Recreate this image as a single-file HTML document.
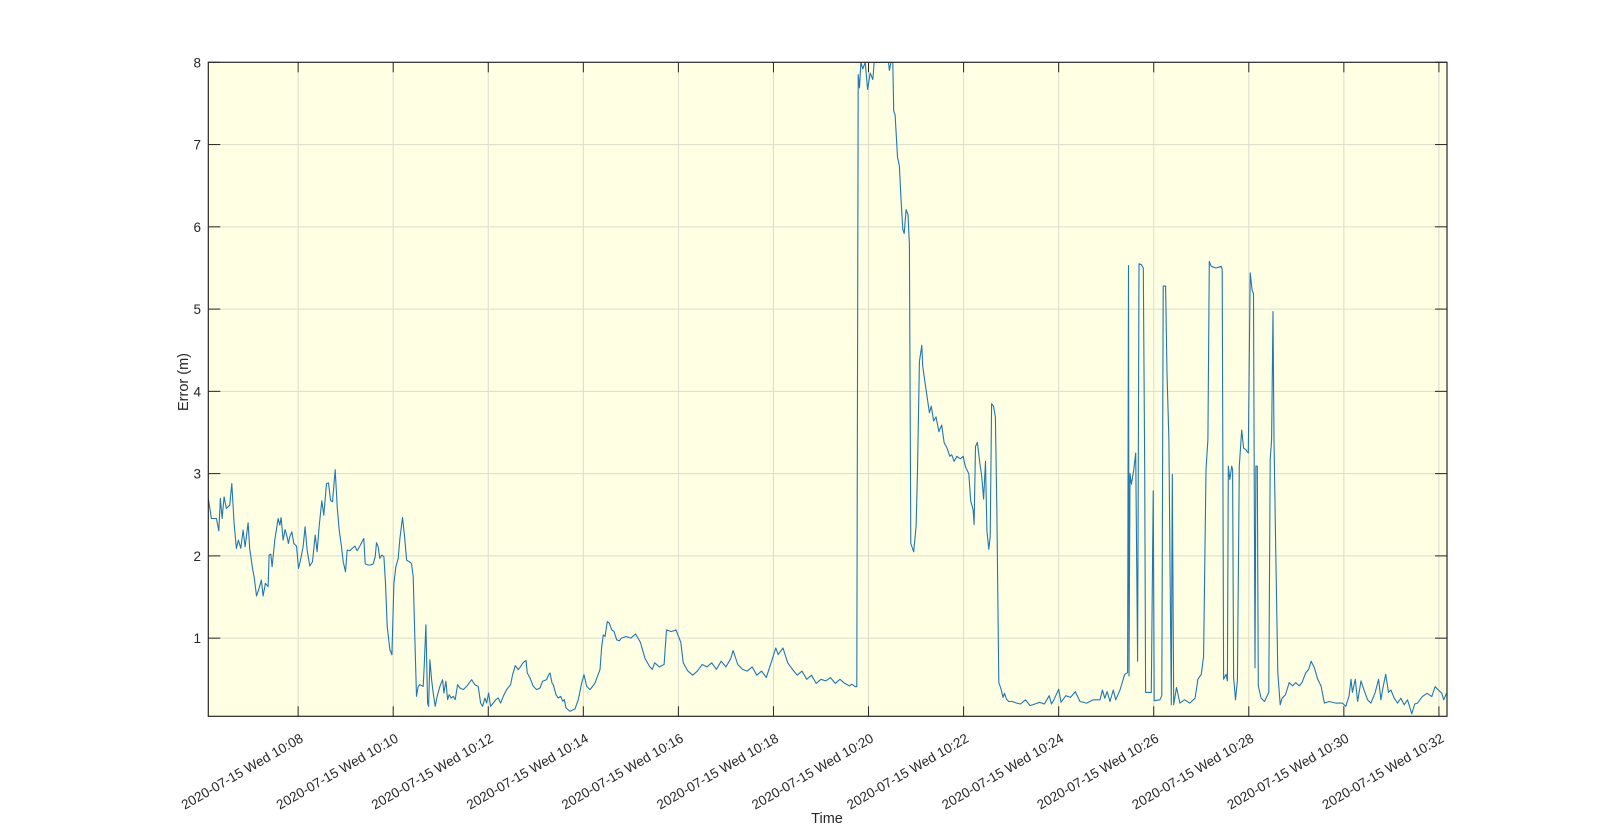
<!DOCTYPE html>
<html><head><meta charset="utf-8"><style>
html,body{margin:0;padding:0;background:#fff;}
svg{display:block;font-family:"Liberation Sans",Arial,sans-serif;}
</style></head><body>
<svg id="chart" width="1600" height="827" viewBox="0 0 1600 827">
<rect x="208.3" y="62.3" width="1238.7" height="654" fill="#ffffe3"/>
<g id="grid"></g>
<g id="series"></g>
<rect x="208.3" y="62.3" width="1238.7" height="654" fill="none" stroke="#262626" stroke-width="1.2"/>
<g id="ticks"></g>
<text x="827" y="823" font-size="14.5" fill="#262626" text-anchor="middle">Time</text>
<text transform="translate(188,382) rotate(-90)" font-size="14.5" fill="#262626" text-anchor="middle">Error (m)</text>
</svg>
<script>
const xTickMinutes=[8,10,12,14,16,18,20,22,24,26,28,30,32];
const xTickLabels=["2020-07-15 Wed 10:08","2020-07-15 Wed 10:10","2020-07-15 Wed 10:12","2020-07-15 Wed 10:14","2020-07-15 Wed 10:16","2020-07-15 Wed 10:18","2020-07-15 Wed 10:20","2020-07-15 Wed 10:22","2020-07-15 Wed 10:24","2020-07-15 Wed 10:26","2020-07-15 Wed 10:28","2020-07-15 Wed 10:30","2020-07-15 Wed 10:32"];
const yTicks=[1,2,3,4,5,6,7,8];
const times=[6.105,6.175,6.281,6.330,6.365,6.400,6.442,6.491,6.561,6.604,6.653,6.702,6.744,6.793,6.842,6.884,6.947,6.982,7.039,7.074,7.123,7.179,7.228,7.263,7.312,7.368,7.389,7.425,7.453,7.509,7.579,7.614,7.642,7.684,7.726,7.768,7.796,7.825,7.867,7.909,7.965,8.007,8.049,8.105,8.147,8.189,8.246,8.302,8.358,8.400,8.442,8.498,8.540,8.596,8.639,8.681,8.723,8.779,8.821,8.863,8.912,8.947,8.996,9.032,9.088,9.137,9.193,9.242,9.298,9.382,9.411,9.474,9.523,9.579,9.621,9.649,9.684,9.719,9.761,9.804,9.839,9.874,9.930,9.972,10.014,10.056,10.105,10.140,10.196,10.239,10.281,10.337,10.386,10.421,10.456,10.491,10.526,10.561,10.632,10.653,10.688,10.723,10.744,10.772,10.807,10.842,10.884,10.926,10.982,11.039,11.067,11.109,11.144,11.179,11.221,11.263,11.305,11.354,11.404,11.474,11.544,11.649,11.719,11.789,11.839,11.881,11.930,11.965,12.007,12.049,12.105,12.161,12.211,12.260,12.316,12.386,12.470,12.512,12.568,12.632,12.681,12.737,12.793,12.821,12.877,12.947,13.018,13.088,13.144,13.228,13.270,13.298,13.340,13.368,13.425,13.474,13.523,13.565,13.600,13.635,13.719,13.825,13.895,13.965,14.014,14.070,14.140,14.196,14.246,14.295,14.351,14.386,14.421,14.456,14.505,14.547,14.596,14.646,14.702,14.758,
14.8,14.9,15.0,15.1,15.2,15.3,15.4,15.45,15.5,15.6,15.7,15.75,15.85,15.95,16.05,16.1,16.2,16.3,16.4,16.5,16.6,16.7,16.8,16.9,17.0,17.1,17.15,17.25,17.35,17.45,17.55,17.65,17.75,17.85,17.95,18.05,18.1,18.2,18.3,18.4,18.5,18.6,18.7,18.8,18.9,19.0,19.1,19.2,19.3,19.4,19.5,19.6,19.649,19.72,19.754,
19.782,19.81,19.84,19.88,19.93,19.98,20.035,20.09,20.12,20.42,20.44,20.47,20.51,20.53,20.56,20.61,20.65,20.68,20.72,20.75,20.79,20.83,20.86,20.89,20.95,21.0,21.03,21.07,21.12,21.14,21.19,21.24,21.28,21.32,21.37,21.42,21.48,21.54,21.59,21.65,21.71,21.75,21.8,21.86,21.93,21.99,22.04,22.11,22.15,22.2,22.22,22.25,22.29,22.34,22.38,22.42,22.46,22.49,22.53,22.56,22.59,22.63,22.67,22.7,22.74,22.79,22.83,22.86,22.9,22.95,23.02,23.12,
23.2,23.3,23.4,23.5,23.6,23.7,23.8,23.85,23.9,24.0,24.05,24.15,24.25,24.35,24.45,24.59,24.73,24.87,24.92,24.97,25.02,25.08,25.15,25.2,25.29,25.39,25.45,25.47,25.48,25.5,25.53,25.58,25.62,25.66,25.69,25.74,25.78,25.81,25.83,25.95,25.99,26.01,26.13,26.17,26.2,26.25,26.28,26.32,26.37,26.39,26.42,26.48,26.55,26.65,26.76,26.87,26.93,27.0,27.05,27.1,27.14,27.17,27.21,27.31,27.42,27.44,27.47,27.52,27.55,27.57,27.6,27.64,27.66,27.68,27.72,27.76,27.8,27.85,27.89,27.94,27.99,28.03,28.07,28.1,28.13,28.15,28.18,28.2,28.26,28.33,28.42,28.45,28.48,28.51,28.53,28.56,28.61,28.66,28.7,28.77,28.85,28.92,28.99,29.06,29.12,29.2,29.26,29.31,29.38,29.45,29.52,29.59,29.69,29.83,29.97,30.04,30.11,30.15,30.18,30.24,30.29,30.36,30.43,30.5,30.57,30.66,30.73,30.78,30.83,30.88,30.94,30.99,31.06,31.13,31.2,31.27,31.34,31.43,31.49,31.55,31.65,31.75,31.85,31.92,31.99,32.06,32.1,32.16];
const errors=[2.717,2.455,2.455,2.305,2.697,2.455,2.717,2.576,2.616,2.879,2.394,2.091,2.192,2.091,2.313,2.111,2.402,2.091,1.848,1.747,1.513,1.606,1.707,1.513,1.667,1.626,2.010,2.022,1.869,2.192,2.455,2.374,2.467,2.192,2.321,2.232,2.152,2.232,2.293,2.152,2.119,1.848,1.949,2.111,2.354,2.071,1.877,1.929,2.253,2.051,2.354,2.669,2.495,2.879,2.887,2.677,2.657,3.048,2.596,2.313,2.111,1.929,1.808,2.071,2.063,2.091,2.119,2.063,2.119,2.212,1.901,1.889,1.889,1.901,1.990,2.160,2.111,1.970,2.010,1.990,1.667,1.141,0.859,0.798,1.667,1.869,1.970,2.212,2.467,2.232,1.949,1.929,1.909,1.747,0.980,0.293,0.414,0.434,0.414,0.657,1.162,0.212,0.172,0.737,0.495,0.333,0.172,0.293,0.414,0.495,0.333,0.475,0.253,0.313,0.273,0.293,0.253,0.434,0.394,0.374,0.414,0.495,0.434,0.414,0.212,0.172,0.273,0.212,0.333,0.172,0.212,0.253,0.273,0.212,0.293,0.374,0.434,0.556,0.665,0.616,0.657,0.705,0.729,0.576,0.515,0.414,0.374,0.394,0.475,0.495,0.556,0.576,0.455,0.434,0.313,0.273,0.293,0.232,0.253,0.152,0.111,0.140,0.253,0.455,0.556,0.414,0.374,0.414,0.455,0.535,0.616,0.899,1.040,1.020,1.202,1.182,1.101,1.081,0.980,0.968,
1.0,1.02,1.0,1.05,0.95,0.75,0.65,0.62,0.7,0.65,0.68,1.1,1.08,1.1,0.95,0.7,0.6,0.55,0.6,0.68,0.65,0.7,0.62,0.72,0.65,0.75,0.85,0.68,0.62,0.6,0.65,0.55,0.6,0.52,0.7,0.88,0.8,0.88,0.7,0.62,0.55,0.6,0.5,0.55,0.45,0.5,0.48,0.52,0.45,0.5,0.45,0.42,0.44,0.41,0.41,
7.85,7.69,8.0,7.92,8.0,7.67,7.87,7.79,8.0,8.0,7.9,8.0,8.0,7.41,7.36,6.85,6.74,6.36,5.97,5.92,6.21,6.15,5.79,2.15,2.05,2.36,3.03,4.36,4.56,4.31,4.1,3.9,3.74,3.82,3.64,3.69,3.51,3.59,3.38,3.31,3.21,3.23,3.15,3.21,3.18,3.21,3.08,3.0,2.67,2.56,2.38,3.33,3.38,3.13,2.97,2.69,3.15,2.31,2.08,2.23,3.85,3.82,3.69,2.51,0.46,0.38,0.28,0.33,0.26,0.23,0.23,0.21,
0.2,0.25,0.18,0.2,0.22,0.2,0.3,0.2,0.25,0.38,0.22,0.3,0.28,0.35,0.23,0.21,0.25,0.25,0.37,0.27,0.35,0.23,0.37,0.25,0.37,0.56,0.58,5.53,0.54,3.0,2.87,3.05,3.25,0.72,5.55,5.54,5.5,3.05,0.34,0.34,2.79,0.24,0.25,0.3,5.28,5.28,4.22,3.41,0.19,2.99,0.19,0.4,0.21,0.25,0.21,0.27,0.5,0.56,0.78,3.05,3.41,5.58,5.52,5.5,5.52,5.48,0.5,0.56,0.48,3.09,2.93,3.09,3.05,0.52,0.25,0.48,3.09,3.53,3.31,3.29,3.25,5.44,5.23,5.19,0.64,3.09,3.09,0.42,0.27,0.23,0.34,3.17,3.41,4.97,3.41,2.32,0.58,0.19,0.27,0.31,0.46,0.42,0.46,0.42,0.46,0.58,0.62,0.72,0.64,0.5,0.42,0.21,0.23,0.21,0.21,0.17,0.3,0.5,0.34,0.5,0.23,0.48,0.36,0.25,0.21,0.34,0.5,0.25,0.42,0.56,0.34,0.37,0.27,0.21,0.27,0.19,0.25,0.08,0.2,0.21,0.29,0.33,0.29,0.41,0.37,0.33,0.25,0.33];

const NS="http://www.w3.org/2000/svg";
const L=208.3,R=1447,T=62.3,B=716.3,TMIN=6.11,TMAX=32.17,YMIN=0.05,YMAX=8;
function xs(t){return L+(t-TMIN)/(TMAX-TMIN)*(R-L);}
function ys(v){return B-(v-YMIN)/(YMAX-YMIN)*(B-T);}
function mk(tag,attrs,parent){const e=document.createElementNS(NS,tag);for(const k in attrs)e.setAttribute(k,attrs[k]);parent.appendChild(e);return e;}
const grid=document.getElementById('grid'),ticks=document.getElementById('ticks'),series=document.getElementById('series'),svg=document.getElementById('chart');
xTickMinutes.forEach((m,i)=>{
  const x=xs(m);
  const g=mk('line',{x1:x,x2:x,y1:T,y2:B,stroke:'#dcdccc','stroke-width':1},grid);
  
  
  const t1=mk('line',{x1:x,x2:x,y1:B,y2:B-10,stroke:'#262626','stroke-width':1},ticks);
  
  
  const t2=mk('line',{x1:x,x2:x,y1:T,y2:T+10,stroke:'#262626','stroke-width':1},ticks);
  
  
  const lb=mk('text',{transform:'translate('+(x+6)+',741) rotate(-30)','text-anchor':'end','font-size':'13.5',fill:'#262626'},svg);
  lb.textContent=xTickLabels[i];
  
  
});
yTicks.forEach(v=>{
  const y=ys(v);
  if(v<YMAX){
    const g=mk('line',{x1:L,x2:R,y1:y,y2:y,stroke:'#dcdccc','stroke-width':1},grid);
    
    
  }
  const t1=mk('line',{x1:L,x2:L+12,y1:y,y2:y,stroke:'#262626','stroke-width':1},ticks);
  
  
  const t2=mk('line',{x1:R,x2:R-12,y1:y,y2:y,stroke:'#262626','stroke-width':1},ticks);
  
  
  const lb=mk('text',{x:201,y:y+5,'text-anchor':'end','font-size':'13.5',fill:'#262626'},svg);
  lb.textContent=String(v);
  
  
});
const clip=mk('clipPath',{id:'pc'},svg);
mk('rect',{x:L,y:T,width:R-L,height:B-T},clip);
let d='';
times.forEach((t,i)=>{d+=(i?'L':'M')+xs(t).toFixed(1)+','+ys(Math.min(errors[i],YMAX)).toFixed(1);});
const p=mk('path',{d:d,fill:'none',stroke:'#1f77b4','stroke-width':1.1,'stroke-linejoin':'round','clip-path':'url(#pc)'},series);


</script>
</body></html>
